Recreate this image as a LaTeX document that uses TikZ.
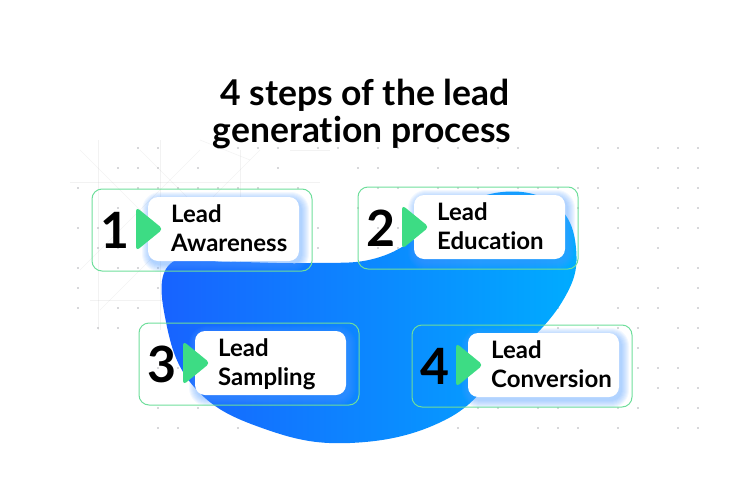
\documentclass[tikz,border=0pt]{standalone}
\usepackage{fontspec}
\setmainfont{Lato}[RawFeature={-liga,-dlig}]
\definecolor{blobleft}{RGB}{24,98,255}
\definecolor{blobright}{RGB}{0,172,255}
\definecolor{edgegreen}{RGB}{110,222,155}
\definecolor{arrowgreen}{RGB}{61,220,132}
\definecolor{glowblue}{RGB}{80,155,255}
\definecolor{dotgray}{RGB}{175,175,180}

\begin{document}
\begin{tikzpicture}[x=1pt,y=-1pt,
  titletext/.style={font=\fontsize{35.5}{42}\selectfont\bfseries, anchor=base, inner sep=0pt},
  outerbox/.style={draw=edgegreen, line width=1pt, rounded corners=10pt},
  whitebox/.style={fill=white, rounded corners=10pt, minimum width=151pt, minimum height=64pt, inner sep=0pt},
  glow/.style={fill=glowblue, opacity=0.07},
  numtext/.style={font=\fontsize{50}{60}\selectfont\bfseries, inner sep=0pt},
  steptext/.style={font=\fontsize{24}{28}\selectfont\bfseries, anchor=base west, inner sep=0pt},
  gridline/.style={draw=gray, opacity=0.1, line width=0.6pt}]
\useasboundingbox (0,0) rectangle (732,501);

% faint lines behind the boxes
\draw[gridline] (80,150) -- (200,270);
\draw[gridline] (200,150) -- (80,270);
\draw[gridline] (140,150) -- (300,310);
\draw[gridline] (260,150) -- (100,310);
\draw[gridline] (98,140) -- (98,330);
\draw[gridline] (160,140) -- (160,330);
\draw[gridline] (240,150) -- (240,330);
\draw[gridline] (70,182) -- (320,182);
\draw[gridline] (90,300) -- (200,300);
\draw[gridline] (200,140) -- (250,160);
\draw[gridline] (290,150) -- (330,150);

% dots
\pgfmathsetseed{11}
\foreach \i in {0,...,31}
  \foreach \j in {0,...,14}{
    \pgfmathsetmacro\r{rnd}
    \pgfmathsetmacro\px{78+20*\i}
    \pgfmathsetmacro\py{148+20*\j}
    \ifdim\r pt<0.55pt
      \ifdim\px pt<140pt \ifdim\py pt>345pt \else
        \fill[dotgray] (\px,\py) circle (0.9);\fi
      \else
        \fill[dotgray] (\px,\py) circle (0.9);
      \fi
    \fi
  }

% blob
\shade[left color=blobleft, right color=blobright]
  plot[smooth cycle, tension=0.7] coordinates {(170,264) (230,262) (310,263) (380,257)
  (440,222) (495,193) (553,203) (576,248) (562,302) (505,365) (445,420) (350,443)
  (262,428) (195,388) (166,322)};

% steps
\node[titletext] (title1) at (365,105) {4 steps of the lead};
\node[titletext] (title2) at (362,142) {generat\kern0pt ion process};

\foreach \i/\x/\y/\word in {1/92/189/Awareness,2/358/187/Education,3/139/323/Sampling,4/412/325/Conversion}{
  \foreach \g in {1,...,8}{
    \pgfmathsetmacro\rr{10+\g}
    \fill[glow, rounded corners=\rr pt] (\x+58-\g,\y+11-\g) rectangle (\x+209+\g,\y+75+\g);
  }
  \node[whitebox] (w\i) at (\x+131.5,\y+40) {};
  \fill[arrowgreen, rounded corners=4pt] (\x+44,\y+18) -- (\x+71,\y+40) -- (\x+44,\y+62) -- cycle;
  \node[numtext] (n\i) at (\x+23,\y+41) {\i};
  \node[steptext] (l\i) at (\x+79,\y+33) {Lead};
  \node[steptext] (t\i) at (\x+79,\y+62) {\word};
  \draw[outerbox] (\x,\y) rectangle ++(220,82);
}
\end{tikzpicture}
\end{document}
